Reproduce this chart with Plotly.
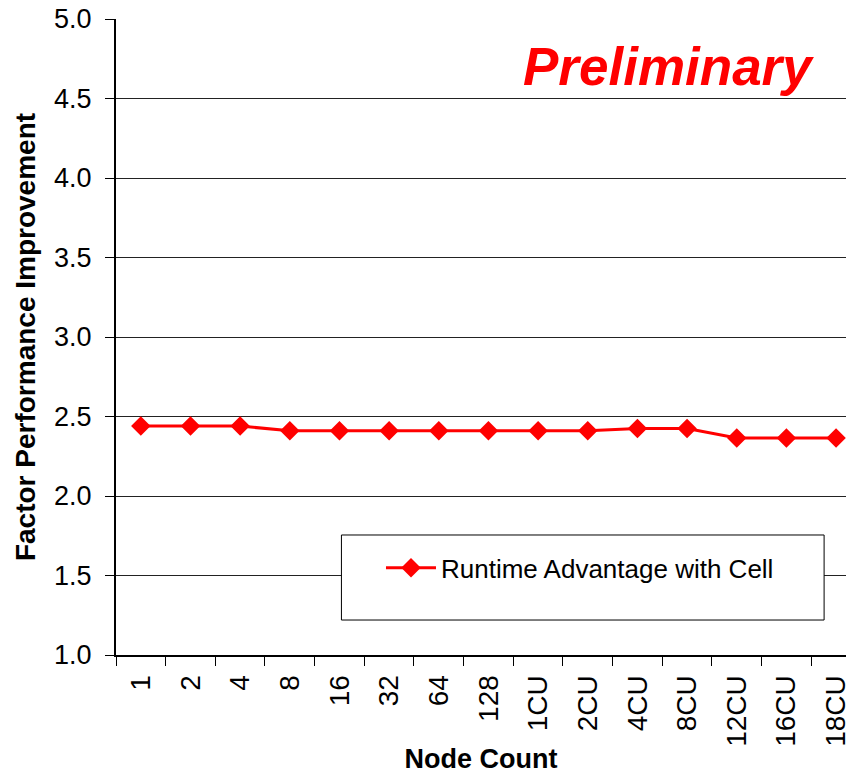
import plotly.graph_objects as go

categories = ["1", "2", "4", "8", "16", "32", "64", "128", "1CU", "2CU", "4CU", "8CU", "12CU", "16CU", "18CU"]
runtime_advantage = [2.44, 2.44, 2.44, 2.41, 2.41, 2.41, 2.41, 2.41, 2.41, 2.41, 2.425, 2.425, 2.365, 2.365, 2.365]
y_ticks = [1.0, 1.5, 2.0, 2.5, 3.0, 3.5, 4.0, 4.5, 5.0]

FONT = "Liberation Sans, Arial, sans-serif"

fig = go.Figure()
fig.add_trace(go.Scatter(
    x=categories, y=runtime_advantage, mode="lines+markers",
    name="Runtime Advantage with Cell",
    line=dict(color="#ff0000", width=3),
    marker=dict(symbol="diamond", size=15, color="#ff0000"),
))

fig.update_layout(
    width=851, height=774,
    margin=dict(l=116, r=0, t=19, b=119),
    paper_bgcolor="white", plot_bgcolor="white",
    font=dict(family=FONT, color="black"),
    showlegend=True,
    legend=dict(x=0.363, y=0.137, xanchor="left", yanchor="middle",
                bgcolor="rgba(0,0,0,0)", borderwidth=0, itemwidth=50,
                font=dict(size=26, family=FONT)),
    shapes=[dict(type="rect", xref="paper", yref="paper",
                 x0=0.3088, x1=0.970, y0=0.055, y1=0.1887,
                 line=dict(color="black", width=1), fillcolor="white", layer="above")],
    annotations=[dict(text="<b><i>Preliminary</i></b>", xref="paper", yref="paper",
                      x=0.757, y=0.925, xanchor="center", yanchor="middle",
                      showarrow=False, font=dict(size=53, color="#ff0000", family=FONT))],
)

fig.update_xaxes(
    type="category", range=[-0.5, 14.2],
    tickson="boundaries", ticks="outside", ticklen=9, tickcolor="black", tickwidth=1,
    tickangle=-90, tickfont=dict(size=28, family=FONT), ticklabelstandoff=7,
    showline=True, linecolor="black", linewidth=2, showgrid=False,
    title=dict(text="<b>Node Count</b>", font=dict(size=27, family=FONT), standoff=6),
)
fig.update_yaxes(
    range=[1.0, 5.0], tickvals=y_ticks, ticktext=[f"{v:.1f}" for v in y_ticks],
    ticks="outside", ticklen=9, tickcolor="black", tickwidth=1,
    tickfont=dict(size=27, family=FONT), ticklabelstandoff=8,
    showline=True, linecolor="black", linewidth=2,
    showgrid=True, gridcolor="#222222", gridwidth=1, zeroline=False,
    title=dict(text="<b>Factor Performance Improvement</b>", font=dict(size=28, family=FONT), standoff=10),
)

fig.write_html("out.html")
